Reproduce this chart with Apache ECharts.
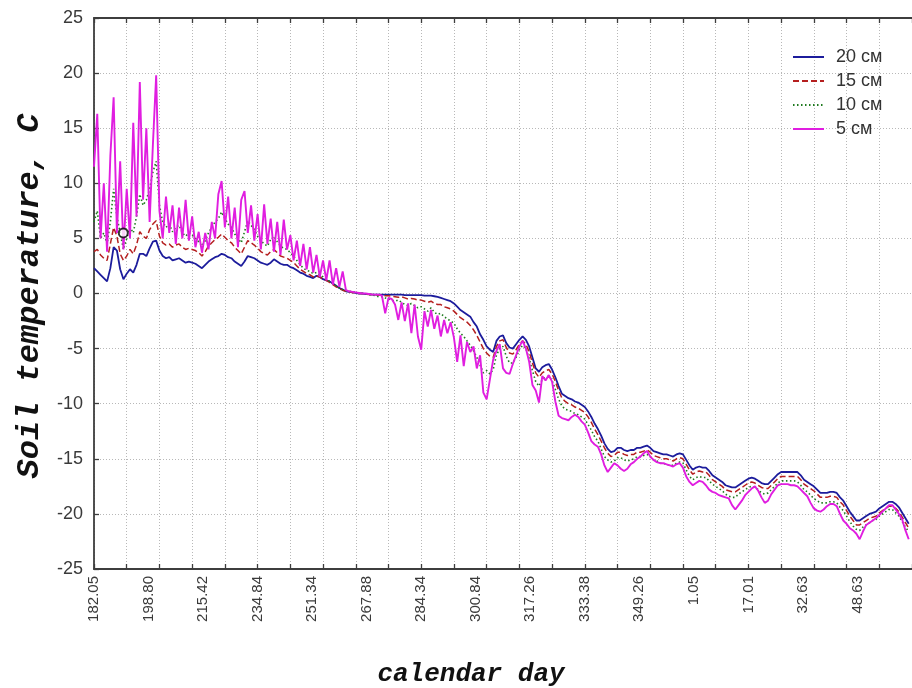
<!DOCTYPE html>
<html>
<head>
<meta charset="utf-8">
<script src="https://cdn.jsdelivr.net/npm/echarts@6/dist/echarts.min.js"></script>
<style>
  html, body { margin: 0; padding: 0; background: #ffffff; }
  #chart { width: 912px; height: 688px; }
</style>
</head>
<body>
<div id="chart"></div>
<script>
// Calendar-day labels placed along the case axis (one label per unit)
const dayLabels = ['182.05', '198.80', '215.42', '234.84', '251.34', '267.88', '284.34',
  '300.84', '317.26', '333.38', '349.26', '1.05', '17.01', '32.63', '48.63'];

// Spacing of successive readings on the case axis
const caseStep = 0.06;

const seriesNames = ['20 см', '15 см', '10 см', '5 см'];

// Soil temperature, °C, at 20 cm
const depth20 = [
  2.3, 2.0, 1.7, 1.4, 1.1, 2.3, 4.2, 3.9, 2.2, 1.3,
  1.8, 2.2, 1.9, 2.6, 3.6, 3.6, 3.4, 4.1, 4.7, 4.8,
  3.9, 3.4, 3.2, 3.3, 3.0, 3.1, 3.2, 3.0, 2.8, 2.9,
  2.8, 2.7, 2.5, 2.3, 2.6, 2.9, 3.1, 3.3, 3.4, 3.6,
  3.5, 3.3, 3.2, 2.9, 2.7, 2.5, 2.9, 3.4, 3.3, 3.2,
  3.0, 2.8, 2.7, 2.6, 2.8, 3.1, 2.9, 2.7, 2.6, 2.6,
  2.4, 2.3, 2.1, 1.9, 1.8, 1.6, 1.5, 1.4, 1.6, 1.5,
  1.3, 1.2, 1.1, 0.9, 0.7, 0.5, 0.35, 0.2, 0.15, 0.1,
  0.05, 0, 0, -0.05, -0.05, -0.1, -0.1, -0.1, -0.1, -0.1,
  -0.1, -0.1, -0.1, -0.1, -0.1, -0.15, -0.15, -0.15, -0.15, -0.15,
  -0.15, -0.2, -0.2, -0.2, -0.25, -0.3, -0.4, -0.5, -0.6, -0.7,
  -0.9, -1.2, -1.5, -1.7, -1.9, -2.1, -2.6, -3.0, -3.7, -4.2,
  -4.8, -5.1, -5.3, -4.3, -3.9, -3.8, -4.5, -4.9, -5.0, -4.6,
  -4.2, -3.9, -4.2, -4.8, -5.8, -6.8, -7.1, -6.7, -6.5, -6.4,
  -6.9, -7.6, -8.4, -9.1, -9.3, -9.5, -9.6, -9.8, -9.9, -10.1,
  -10.3, -10.7, -11.2, -11.8, -12.3, -12.9, -13.6, -14.1, -14.4, -14.3,
  -14.0, -14.0, -14.2, -14.3, -14.2, -14.2, -14.0, -14.0, -13.9, -13.8,
  -14.0, -14.3, -14.4, -14.5, -14.6, -14.6, -14.7, -14.8, -14.6, -14.5,
  -14.6, -15.1, -15.6, -16.0, -15.8, -15.7, -15.8, -15.8, -16.1, -16.5,
  -16.7, -16.9, -17.1, -17.4, -17.5, -17.6, -17.6, -17.4, -17.2, -17.0,
  -16.8, -16.7, -16.8, -17.0, -17.2, -17.3, -17.3, -17.0, -16.7, -16.4,
  -16.2, -16.2, -16.2, -16.2, -16.2, -16.2, -16.5, -16.9, -17.1, -17.3,
  -17.5, -17.8, -18.1, -18.1, -18.1, -18.0, -18.0, -18.1, -18.5, -18.8,
  -19.3, -19.8, -20.2, -20.6, -20.6, -20.4, -20.2, -20.0, -19.9, -19.8,
  -19.5, -19.3, -19.1, -18.9, -18.9, -19.1, -19.4, -19.9, -20.4, -20.9
];

// Soil temperature, °C, at 15 cm
const depth15 = [
  3.8, 4.0, 3.5, 3.2, 3.0, 4.5, 6.0, 5.2, 3.6, 3.0,
  3.4, 4.0, 3.6, 4.4, 5.6, 5.2, 5.0, 5.8, 6.3, 6.6,
  5.2, 4.6, 4.4, 4.5, 4.2, 4.4, 4.5, 4.2, 4.0, 4.1,
  4.0, 3.9, 3.7, 3.4, 3.8, 4.3, 4.6, 4.9, 5.1, 5.4,
  5.1, 4.8, 4.6, 4.2, 3.9, 3.6, 4.2, 4.8, 4.6, 4.4,
  4.1, 3.8, 3.6, 3.5, 3.8, 4.0, 3.7, 3.4, 3.3, 3.2,
  3.0, 2.8, 2.5, 2.2, 2.0, 1.8, 1.7, 1.5, 1.6, 1.5,
  1.3, 1.2, 1.0, 0.8, 0.6, 0.45, 0.3, 0.2, 0.15, 0.1,
  0.05, 0, 0, -0.05, -0.1, -0.1, -0.1, -0.15, -0.15, -0.2,
  -0.2, -0.25, -0.3, -0.35, -0.3, -0.4, -0.5, -0.45, -0.5, -0.6,
  -0.6, -0.7, -0.8, -0.7, -0.9, -1.0, -1.0, -1.2, -1.3, -1.4,
  -1.6, -1.9, -2.2, -2.4, -2.6, -2.9, -3.3, -3.8, -4.4, -5.0,
  -5.4, -5.7, -5.8, -4.8, -4.3, -4.2, -4.9, -5.4, -5.5, -5.1,
  -4.6, -4.3, -4.6, -5.3, -6.3, -7.2, -7.6, -7.2, -7.0, -6.9,
  -7.3, -8.0, -8.8, -9.5, -9.8, -10.0, -10.1, -10.3, -10.4, -10.6,
  -10.8, -11.2, -11.7, -12.3, -12.8, -13.4, -14.0, -14.5, -14.8, -14.7,
  -14.4, -14.4, -14.6, -14.7, -14.6, -14.6, -14.4, -14.4, -14.3, -14.2,
  -14.4, -14.7, -14.8, -14.9, -15.0, -15.0, -15.1, -15.2, -15.0, -14.9,
  -15.0, -15.5, -16.0, -16.4, -16.2, -16.1, -16.2, -16.2, -16.5, -16.9,
  -17.1, -17.3, -17.5, -17.8, -17.9, -18.0, -18.0, -17.8, -17.6, -17.4,
  -17.2, -17.1, -17.2, -17.4, -17.6, -17.7, -17.7, -17.4, -17.1, -16.8,
  -16.6, -16.6, -16.6, -16.6, -16.6, -16.6, -16.9, -17.3, -17.5, -17.7,
  -17.9, -18.2, -18.5, -18.5, -18.5, -18.4, -18.4, -18.5, -18.9, -19.2,
  -19.7, -20.2, -20.6, -21.0, -21.0, -20.8, -20.6, -20.4, -20.3, -20.2,
  -19.9, -19.7, -19.5, -19.3, -19.3, -19.5, -19.8, -20.3, -20.8, -21.3
];

// Soil temperature, °C, at 10 cm
const depth10 = [
  6.5, 7.5, 5.0, 5.5, 4.5, 6.5, 9.5, 7.0, 5.5, 4.0,
  5.0, 6.0, 5.5, 7.0, 9.0, 8.0, 8.5, 9.5, 11.0, 12.0,
  8.0, 6.5, 6.0, 6.3, 5.6, 6.0, 6.2, 5.5, 5.2, 5.5,
  5.3, 5.0, 4.7, 4.3, 4.8, 5.5, 6.0, 6.5, 6.8, 7.4,
  6.8, 6.3, 6.0, 5.4, 5.0, 4.6, 5.6, 6.6, 6.2, 5.8,
  5.2, 4.8, 4.5, 4.3, 4.9, 5.2, 4.7, 4.3, 4.1, 4.0,
  3.7, 3.4, 3.0, 2.6, 2.3, 2.1, 2.0, 1.8, 1.9, 1.7,
  1.5, 1.3, 1.1, 0.9, 0.7, 0.5, 0.35, 0.25, 0.2, 0.15,
  0.1, 0.05, 0, -0.05, -0.1, -0.15, -0.2, -0.3, -0.3, -0.4,
  -0.5, -0.6, -0.7, -0.6, -0.8, -1.0, -1.1, -0.9, -1.1, -1.3,
  -1.2, -1.4, -1.6, -1.3, -1.7, -1.9, -1.8, -2.1, -2.3, -2.5,
  -2.7, -3.2, -3.6, -3.9, -4.3, -4.7, -5.2, -5.8, -6.5, -7.2,
  -7.0, -7.3, -6.9, -5.6, -5.0, -4.8, -5.7, -6.3, -6.3, -5.8,
  -5.1, -4.7, -5.0, -5.9, -7.0, -8.0, -8.4, -7.8, -7.6, -7.5,
  -7.9, -8.7, -9.6, -10.2, -10.5, -10.6, -10.7, -10.9, -11.0, -11.2,
  -11.4, -11.9, -12.4, -13.0, -13.4, -14.1, -14.8, -15.1, -15.3, -15.2,
  -14.9, -14.9, -15.1, -15.2, -15.1, -15.0, -14.8, -14.8, -14.7, -14.6,
  -14.8, -15.1, -15.2, -15.4, -15.4, -15.5, -15.6, -15.6, -15.4, -15.3,
  -15.4, -16.0, -16.6, -16.9, -16.7, -16.6, -16.7, -16.7, -17.0, -17.3,
  -17.5, -17.7, -17.9, -18.2, -18.4, -18.5, -18.5, -18.2, -18.0, -17.8,
  -17.6, -17.5, -17.6, -17.8, -18.1, -18.2, -18.1, -17.8, -17.5, -17.2,
  -17.0, -17.0, -17.0, -17.0, -17.0, -17.1, -17.4, -17.8, -18.0, -18.3,
  -18.6, -18.8, -19.0, -19.0, -19.0, -18.9, -18.9, -19.0, -19.4, -19.7,
  -20.2, -20.7, -21.1, -21.4, -21.5, -21.2, -21.0, -20.8, -20.6, -20.5,
  -20.2, -20.0, -19.8, -19.6, -19.6, -19.9, -20.2, -20.7, -21.2, -21.6
];

// Soil temperature, °C, at 5 cm
const depth5 = [
  11.5, 16.3, 5.0, 10.0, 3.8, 12.5, 17.8, 5.5, 12.0, 4.0,
  9.5, 5.0, 15.5, 7.0, 19.2, 8.5, 15.0, 6.5, 13.5, 19.8,
  7.5, 5.0, 8.8, 5.5, 8.0, 4.5, 7.8, 5.0, 8.5, 4.8,
  7.0, 4.2, 5.6, 3.7, 5.5, 4.0, 6.5, 5.0, 9.0, 10.2,
  6.0, 8.8, 5.0, 7.8, 4.2, 8.5, 9.3, 5.5, 8.0, 4.8,
  7.2, 4.0, 8.1, 4.5, 6.8, 3.8, 6.5, 3.5, 6.7, 4.0,
  5.3, 3.0, 4.8, 2.5, 4.5, 2.2, 4.2, 1.9, 3.5, 1.5,
  3.0, 1.2, 3.0, 0.8, 2.3, 0.6, 2.0, 0.3, 0.2, 0.15,
  0.1, 0.05, 0, 0, -0.05, -0.1, -0.1, -0.1, -0.2, -1.8,
  -0.4, -0.5, -1.0, -2.4, -0.8, -2.5, -0.9, -3.6, -1.0, -3.9,
  -5.1, -1.6, -3.0, -1.5, -3.2, -2.0, -3.9, -2.4, -3.6, -2.6,
  -4.0, -6.2, -3.8, -6.6, -4.4, -5.3, -4.8, -6.8, -5.6, -9.0,
  -9.6, -7.8, -6.0, -5.2, -4.6, -6.8, -7.2, -7.3, -6.4, -5.6,
  -4.8, -4.3, -5.0, -6.2, -8.3, -8.8, -9.9, -7.5, -7.9, -7.4,
  -8.0, -9.8, -11.1, -11.3, -11.4, -11.5, -11.2, -11.0, -11.2, -11.6,
  -11.9, -12.6, -13.4, -13.7, -13.9, -14.6, -15.6, -16.2, -15.8, -15.4,
  -15.6, -15.9, -16.1, -15.9, -15.5, -15.3, -15.0, -14.8, -14.5, -14.3,
  -14.8, -15.1, -15.3, -15.4, -15.4, -15.5, -15.6, -15.7, -15.5, -15.4,
  -15.8, -16.6, -17.1, -17.4, -17.2, -17.0, -17.1, -17.4, -17.8, -18.0,
  -18.1, -18.3, -18.4, -18.5, -18.6, -19.2, -19.6, -19.2, -18.8, -18.3,
  -18.0, -17.7, -17.5, -17.9, -18.5, -19.0, -18.8, -18.2, -17.8, -17.4,
  -17.3, -17.3, -17.3, -17.4, -17.4, -17.5, -17.8, -18.1, -18.4, -19.0,
  -19.5, -19.7, -19.8, -19.6, -19.3, -19.1, -19.1, -19.3, -20.0, -20.6,
  -20.9, -21.3, -21.5, -21.8, -22.3, -21.6, -21.0, -20.8, -20.6, -20.4,
  -20.1, -19.8, -19.5, -19.2, -19.2, -19.6, -20.0, -20.5, -21.5, -22.3
];

// Single highlighted reading (open circle)
const markedPoint = [[0.537, 5.5]];

const lineColors = ['#1c1c9c', '#b51f1f', '#1f7a1f', '#e01ee0'];
const lineTypes = ['solid', [6, 3], [1.5, 2.5], 'solid'];
const lineWidths = [1.8, 1.5, 1.6, 1.9];

function withCase(values) {
  return values.map((v, i) => [+(i * caseStep).toFixed(3), v]);
}

const labelFont = 'Liberation Sans, Arial, sans-serif';
const titleFont = 'Liberation Mono, Courier New, monospace';
const frameColor = '#3d3d3d';
const gridLine = { show: true, lineStyle: { color: '#b8b8b8', type: [1, 2], width: 1 } };

const chart = echarts.init(document.getElementById('chart'), null, { renderer: 'canvas' });

const depthSeries = [depth20, depth15, depth10, depth5].map((vals, k) => ({
  name: seriesNames[k],
  type: 'line',
  xAxisIndex: 0,
  yAxisIndex: 0,
  data: withCase(vals),
  symbol: 'none',
  showSymbol: false,
  animation: false,
  z: 3 + k,
  itemStyle: { color: lineColors[k] },
  lineStyle: { color: lineColors[k], width: lineWidths[k], type: lineTypes[k] }
}));

chart.setOption({
  backgroundColor: '#ffffff',
  animation: false,
  grid: { left: 94, right: 0, top: 18, bottom: 119, containLabel: false },
  legend: {
    orient: 'vertical',
    left: 792,
    top: 48,
    padding: 0,
    itemWidth: 31,
    itemHeight: 14,
    itemGap: 6,
    data: seriesNames,
    itemStyle: { opacity: 0 },
    textStyle: { fontFamily: labelFont, fontSize: 18, color: '#333333', padding: [0, 0, 0, 7] }
  },
  xAxis: [
    {
      type: 'value', position: 'bottom', min: 0, max: 15, interval: 1,
      axisLine: { show: true, onZero: false, lineStyle: { color: frameColor, width: 1.8 } },
      axisTick: { show: false },
      splitLine: { show: false },
      axisLabel: {
        rotate: 90, margin: 7, fontFamily: labelFont, fontSize: 15, color: '#3a3a3a',
        showMaxLabel: false,
        formatter: v => dayLabels[Math.round(v)] || ''
      }
    },
    {
      type: 'value', position: 'bottom', min: 0, max: 15, interval: 0.6,
      axisLine: { show: false, onZero: false },
      axisTick: { show: true, inside: true, length: 5, lineStyle: { color: frameColor, width: 1.3 } },
      axisLabel: { show: false },
      splitLine: gridLine
    },
    {
      type: 'value', position: 'top', min: 0, max: 15, interval: 0.6,
      axisLine: { show: true, onZero: false, lineStyle: { color: frameColor, width: 1.8 } },
      axisTick: { show: true, inside: true, length: 5, lineStyle: { color: frameColor, width: 1.3 } },
      axisLabel: { show: false },
      splitLine: { show: false }
    }
  ],
  yAxis: [
    {
      type: 'value', min: -25, max: 25, interval: 5,
      axisLine: { show: true, onZero: false, lineStyle: { color: frameColor, width: 1.8 } },
      axisTick: { show: true, inside: true, length: 5, lineStyle: { color: frameColor, width: 1.3 } },
      axisLabel: { margin: 11, fontFamily: labelFont, fontSize: 18, color: '#3a3a3a' },
      splitLine: gridLine
    }
  ],
  graphic: [
    {
      type: 'text', x: 30, y: 296, rotation: Math.PI / 2, silent: true,
      style: {
        text: 'Soil temperature, C', align: 'center', verticalAlign: 'middle',
        fontFamily: titleFont, fontSize: 32, fontStyle: 'italic', fontWeight: 'bold', fill: '#111111'
      }
    },
    {
      type: 'text', x: 471, y: 674, silent: true,
      style: {
        text: 'calendar day', align: 'center', verticalAlign: 'middle',
        fontFamily: titleFont, fontSize: 26, fontStyle: 'italic', fontWeight: 'bold', fill: '#111111'
      }
    }
  ],
  series: depthSeries.concat([{
    name: 'marked',
    type: 'scatter',
    xAxisIndex: 0,
    yAxisIndex: 0,
    data: markedPoint,
    symbol: 'emptyCircle',
    symbolSize: 9,
    z: 20,
    itemStyle: { color: '#000000', borderColor: '#000000', borderWidth: 2.5 },
    animation: false
  }])
});
</script>
</body>
</html>
